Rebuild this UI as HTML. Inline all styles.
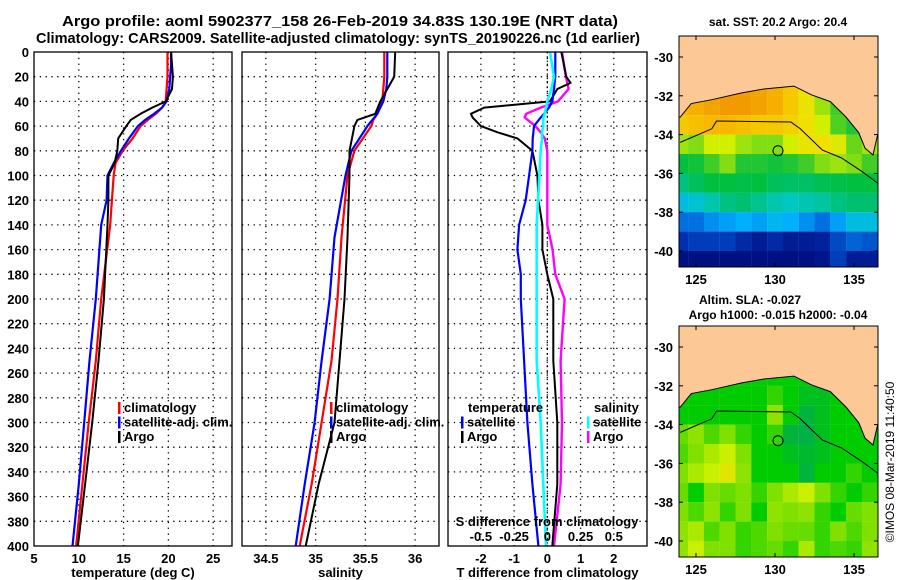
<!DOCTYPE html>
<html><head><meta charset="utf-8"><style>
body{margin:0;background:#fff}
svg{display:block;font-family:"Liberation Sans",sans-serif;font-weight:bold}
</style></head><body>
<svg id="c" width="900" height="580" viewBox="0 0 900 580" xmlns="http://www.w3.org/2000/svg">
<text x="62" y="26" font-size="15" textLength="556" lengthAdjust="spacingAndGlyphs">Argo profile: aoml 5902377_158 26-Feb-2019 34.83S 130.19E (NRT data)</text>
<text x="36" y="43" font-size="15" textLength="604" lengthAdjust="spacingAndGlyphs">Climatology: CARS2009. Satellite-adjusted climatology: synTS_20190226.nc (1d earlier)</text>
<text x="778" y="26" font-size="12" text-anchor="middle">sat. SST: 20.2 Argo: 20.4</text>
<text x="750" y="304" font-size="12" text-anchor="middle">Altim. SLA: -0.027</text>
<text x="778" y="319" font-size="12" text-anchor="middle">Argo h1000: -0.015 h2000: -0.04</text>
<text transform="translate(894,462) rotate(-90)" font-size="12" font-weight="normal" text-anchor="middle">©IMOS 08-Mar-2019 11:40:50</text>
<g id="g"></g>
</svg>
<script>
// ---- profile data (depth in m) ----
const tDepth=[0,10,20,30,40,45,50,55,60,70,80,90,100,120,140,200,250,300,350,400];
const tArgo=[20.3,20.4,20.5,20.4,19.7,18.2,16.9,15.8,15.3,14.4,14.3,14.0,13.3,13.3,13.2,12.8,12.2,11.5,10.7,9.9];
const tClim=[19.9,19.9,19.9,19.8,19.7,19.3,18.6,17.7,16.9,16.0,14.9,14.1,13.9,13.7,13.5,12.5,11.9,11.1,10.4,9.7];
const tSat=[20.3,20.3,20.2,20.1,19.8,19.3,18.4,17.4,16.6,15.6,14.7,13.9,13.2,13.1,12.5,11.9,11.2,10.6,10.0,9.3];
const sDepth=[0,20,30,40,50,55,60,80,100,150,200,250,300,350,400];
const sArgo=[35.80,35.79,35.72,35.65,35.60,35.42,35.39,35.34,35.34,35.32,35.29,35.24,35.19,35.03,34.90];
const sClim=[35.69,35.69,35.68,35.67,35.62,35.58,35.56,35.39,35.32,35.26,35.22,35.16,35.06,34.96,34.84];
const sSat=[35.72,35.72,35.71,35.68,35.62,35.57,35.52,35.36,35.30,35.19,35.14,35.06,34.99,34.89,34.80];
const dDepth=[0,20,25,30,40,45,50,53,60,65,70,80,100,120,140,160,180,200,250,300,350,400];
const dTArgo=[0.42,0.57,0.7,0.3,0.08,-1.9,-2.3,-2.25,-2.0,-1.5,-0.9,-0.45,-0.3,-0.27,-0.15,-0.15,0,0.18,0.18,0.3,0.3,0.15];
const dTSat=[0.24,0.24,0.22,0.2,0.15,0.05,-0.1,-0.2,-0.4,-0.42,-0.44,-0.45,-0.55,-0.65,-0.85,-0.9,-0.8,-0.8,-0.7,-0.6,-0.45,-0.27];
const dSSat=[0.02,0.05,0.04,0.03,0.0,-0.01,-0.02,-0.03,-0.03,-0.04,-0.04,-0.05,-0.06,-0.07,-0.08,-0.08,-0.08,-0.08,-0.08,-0.05,-0.03,-0.01];
const dSArgo=[0.11,0.14,0.15,0.16,0.08,-0.05,-0.16,-0.17,-0.09,-0.05,-0.02,0.0,0.0,0.0,0.0,0.04,0.06,0.13,0.1,0.11,0.1,0.05];
const depthTicks=[0,20,40,60,80,100,120,140,160,180,200,220,240,260,280,300,320,340,360,380,400];
const tTicks=[5,10,15,20,25];
const sTicks=[34.5,35,35.5,36];
const dTicks=[-2,-1,0,1,2];
const dsTicks=[-0.5,-0.25,0,0.25,0.5];
// ---- map data (1-degree cells, lon 124..136, lat rows -30.5..-40.5) ----
const mapLons=[124,125,126,127,128,129,130,131,132,133,134,135,136];
const mapLats=[-30.5,-31.5,-32.5,-33.5,-34.5,-35.5,-36.5,-37.5,-38.5,-39.5,-40.5];
const sst=[
[20.8,20.9,21,21.1,21.1,21,20.9,20.6,20.2,19.6,19.2,19,19],
[20.8,20.9,21,21.1,21.1,21,20.9,20.6,20.2,19.6,19.2,19,19],
[20.8,20.9,21,21.1,21.1,21,20.9,20.6,20.2,19.6,19.2,19,19],
[20.6,20.7,20.8,20.8,20.7,20.6,20.6,20.5,20.3,19.8,19.3,19,19],
[19.6,19.5,19.8,19.8,19.6,19.5,19.5,19.8,20.2,20.3,20,19.4,19.6],
[18.8,18.9,19.2,19.5,19.0,19.0,18.9,19.0,19.2,19.5,19.6,19.5,19.2],
[18.2,18.5,18.8,18.8,18.7,18.8,18.5,18.4,18.4,18.6,18.7,18.8,18.8],
[17.6,17.7,17.9,18.2,18.3,18.1,17.9,17.8,17.9,18.0,18.2,18.3,18.3],
[17.0,17.0,17.2,17.3,17.4,17.3,17.5,17.4,17.2,17.0,17.3,17.6,17.6],
[16.5,16.6,16.6,16.6,16.4,16.2,16.4,16.2,16.2,16.3,16.7,16.9,16.8],
[16.0,16.0,16.0,16.0,16.0,16.0,16.0,16.0,16.0,16.1,16.6,16.2,16.2]];
const sla=[
[0,0,0,0,0,0,0,0,0,0,0,0,0],
[0,0,0,0,0,0,0,0,0,0,0,0,0],
[0,0,0,0,0,0,0.02,0,-0.02,-0.02,0,0,0],
[0,0,0,0,0,0,0.06,0,-0.04,-0.02,0,0,0],
[0.04,0.06,0.03,0.05,0.02,0,0.02,-0.04,-0.05,-0.02,0,0,0],
[0.03,0.05,0.08,0.1,0.05,0,0,-0.02,-0.03,-0.02,0,0,0],
[0.05,0.08,0.1,0.13,0.06,0,0,0,-0.04,0,0,0.02,0],
[0.04,0,0.05,0.04,0.05,0.02,0.05,0.08,0.1,0.05,0.02,0,0.02],
[0.05,0.03,0.06,0.02,0.05,0,0.06,0.05,0.06,0.02,0,0.04,0.05],
[0.06,0.08,0.03,0.05,0.02,0.03,0.05,0.04,0.04,0.02,0.05,0.03,0.05],
[0.06,0.1,0.05,0.05,0.02,0.03,0.04,0.02,0.08,0.02,0.03,0.02,0.06]];
const coastLon=[123.5,124,124.7,126,127.9,129.3,131.2,132.3,133.5,134.5,135.3,135.7,136.2,136.5,137];
const coastLat=[-33.1,-33.1,-32.4,-32.2,-31.85,-31.65,-31.5,-31.95,-32.3,-33.1,-33.9,-34.7,-35.05,-34.0,-34.0];
const isoLon=[124,126,126.3,131,131.6,133,134.2,135.5,136.5];
const isoLat=[-34.4,-33.7,-33.3,-33.35,-33.7,-34.8,-35.2,-35.9,-36.5];
const argoLon=130.19, argoLat=-34.83;
const lonTicks=[125,130,135];
const latTicks=[-30,-32,-34,-36,-38,-40];

const NS="http://www.w3.org/2000/svg";
const G=document.getElementById('g');
function el(tag,attrs,parent){const e=document.createElementNS(NS,tag);for(const k in attrs)e.setAttribute(k,attrs[k]);(parent||G).appendChild(e);return e;}
function txt(x,y,s,attrs){const e=el('text',Object.assign({x:x,y:y,'font-size':13},attrs||{}));e.textContent=s;return e;}
const Y0=52,Y1=546;
const yD=d=>Y0+d*(Y1-Y0)/400;

function panel(name,x0,x1,vmin,vmax,ticks,fmt,label){
  const sx=v=>x0+(v-vmin)*(x1-x0)/(vmax-vmin);
  const g=el('g',{});
  
  
  for(const d of depthTicks){if(d>0&&d<400){const l=el('line',{x1:x0,x2:x1,y1:yD(d),y2:yD(d),stroke:'#000','stroke-width':1.3,'stroke-dasharray':'1.3,4.5'},g);}}
  for(const t of ticks){if(sx(t)>x0+1&&sx(t)<x1-1){const l=el('line',{x1:sx(t),x2:sx(t),y1:Y0,y2:Y1,stroke:'#000','stroke-width':1.3,'stroke-dasharray':'1.3,4.5'},g);}
    const tl=txt(sx(t),563,fmt(t),{'text-anchor':'middle'});}
  const xl=txt((x0+x1)/2,577,label,{'text-anchor':'middle'});
  
  
  return {sx,g};
}
function line(p,vals,depths,color,w,nm){
  const pts=vals.map((v,i)=>p.sx(v).toFixed(1)+','+yD(depths[i]).toFixed(1)).join(' ');
  const l=el('polyline',{points:pts,fill:'none',stroke:color,'stroke-width':w,'stroke-linejoin':'round'});
  
  
}
function frame(x0,x1,nm){const r=el('rect',{x:x0,y:Y0,width:x1-x0,height:Y1-Y0,fill:'none',stroke:'#000','stroke-width':1.3});}

for(const d of depthTicks){const t=txt(29,yD(d)+5,String(d),{'text-anchor':'end'});}

const p1=panel('temperature',34,232,5,27.1,tTicks,String,'temperature (deg C)');
line(p1,tClim,tDepth,'#f00',2.2,'temp-climatology-line');
line(p1,tSat,tDepth,'#00f',2.2,'temp-satellite-line');
line(p1,tArgo,tDepth,'#000',2,'temp-argo-line');
frame(34,232,'temperature-axes');
const p2=panel('salinity',242,439,34.26,36.24,sTicks,String,'salinity');
line(p2,sClim,sDepth,'#f00',2.2,'sal-climatology-line');
line(p2,sSat,sDepth,'#00f',2.2,'sal-satellite-line');
line(p2,sArgo,sDepth,'#000',2,'sal-argo-line');
frame(242,439,'salinity-axes');
const p3=panel('difference',448,647,-2.99,3.0,dTicks,String,'T difference from climatology');
const p3s={sx:v=>p3.sx(v*4)};
el('line',{x1:p3.sx(0),x2:p3.sx(0),y1:Y0,y2:Y1,stroke:'#000','stroke-width':1.3,'stroke-dasharray':'1.3,3'});
line(p3s,dSArgo,dDepth,'#f0f',2.4,'sal-diff-argo-line');
line(p3,dTArgo,dDepth,'#000',2,'temp-diff-argo-line');
line(p3,dTSat,dDepth,'#00f',2.2,'temp-diff-satellite-line');
line(p3s,dSSat,dDepth,'#0ff',2.6,'sal-diff-satellite-line');
frame(448,647,'difference-axes');
let st=txt(547,526,'S difference from climatology',{'text-anchor':'middle'});

for(const t of dsTicks){const e=txt(p3s.sx(t),541,String(t),{'text-anchor':'middle'});}

function legend(x,y,items,nm){
  items.forEach((it,i)=>{
    const r=el('rect',{x:x,y:y+i*14.5-10,width:2.5,height:12,fill:it[1]});
    
    const t=txt(x+6,y+i*14.5,it[0]);
    
  });
}
legend(118,412,[['climatology','#f00'],['satellite-adj. clim.','#00f'],['Argo','#000']],'temp-legend');
legend(330,412,[['climatology','#f00'],['satellite-adj. clim.','#00f'],['Argo','#000']],'sal-legend');
let lt=txt(468,412,'temperature');
legend(461,426.5,[['satellite','#00f'],['Argo','#000']],'diff-temp-legend');
let ls=txt(594,412,'salinity');
legend(587,426.5,[['satellite','#0ff'],['Argo','#f0f']],'diff-sal-legend');

// ---- maps ----
const rgb=c=>'rgb('+c.join(',')+')';
function interp(v,stops){if(v<=stops[0][0])return rgb(stops[0][1]);for(let i=1;i<stops.length;i++){if(v<=stops[i][0]){const a=stops[i-1],b=stops[i],f=(v-a[0])/(b[0]-a[0]);const ca=a[1],cb=b[1];return rgb([0,1,2].map(k=>Math.round(ca[k]+(cb[k]-ca[k])*f)));}}return rgb(stops[stops.length-1][1]);}
const sstStops=[[16,[0,16,128]],[16.5,[0,48,176]],[17,[0,112,224]],[17.4,[0,176,255]],[17.8,[0,200,192]],[18.3,[0,192,112]],[18.8,[0,192,64]],[19.3,[80,208,32]],[19.8,[208,240,0]],[20.3,[240,224,0]],[20.8,[248,184,0]],[21.2,[240,144,0]]];
const slaStops=[[-0.1,[0,160,120]],[-0.04,[0,180,60]],[0,[0,204,0]],[0.05,[128,224,0]],[0.1,[200,240,0]],[0.15,[240,224,0]]];
function map(nm,top,vals,stops){
  const X0=679,X1=878,Yt=top,Yb=top+231,lat30=top+21;
  const mx=lon=>775+(lon-130)*15.8, my=lat=>lat30+(-30-lat)*19.4;
  const g=el('g',{});
  
  
  const cid='clip'+top;
  const cp=el('clipPath',{id:cid},g);el('rect',{x:X0,y:Yt,width:X1-X0,height:Yb-Yt},cp);
  const inner=el('g',{'clip-path':'url(#'+cid+')'},g);
  vals.forEach((row,i)=>row.forEach((v,j)=>{
    const c=el('rect',{x:mx(mapLons[j]-0.5),y:my(mapLats[i]+0.5),width:15.9,height:19.5,fill:interp(v,stops)},inner);
    
  }));
  let pts=coastLon.map((l,i)=>mx(l)+','+my(coastLat[i])).join(' ');
  pts+=' '+mx(137)+','+(Yt-5)+' '+mx(123.5)+','+(Yt-5);
  const land=el('polygon',{points:pts,fill:'#fcc896',stroke:'#000','stroke-width':1},inner);
  
  const iso=el('polyline',{points:isoLon.map((l,i)=>mx(l)+','+my(isoLat[i])).join(' '),fill:'none',stroke:'#000','stroke-width':1},inner);
  
  const ap=el('circle',{cx:mx(argoLon),cy:my(argoLat),r:5,fill:'none',stroke:'#000','stroke-width':1},g);
  
  el('rect',{x:X0,y:Yt,width:X1-X0,height:Yb-Yt,fill:'none',stroke:'#000','stroke-width':1},g);
  for(const t of latTicks){el('line',{x1:X0,x2:X0+4,y1:my(t),y2:my(t),stroke:'#000'},g);el('line',{x1:X1-4,x2:X1,y1:my(t),y2:my(t),stroke:'#000'},g);
    const e=txt(673,my(t)+5,String(t),{'text-anchor':'end'},g);}
  for(const t of lonTicks){el('line',{x1:mx(t),x2:mx(t),y1:Yt,y2:Yt+4,stroke:'#000'},g);el('line',{x1:mx(t),x2:mx(t),y1:Yb-4,y2:Yb,stroke:'#000'},g);
    const e=txt(mx(t),Yb+17,String(t),{'text-anchor':'middle'});}
}
map('sst-map',36,sst,sstStops);
map('sla-map',326,sla,slaStops);
</script>
</body></html>
